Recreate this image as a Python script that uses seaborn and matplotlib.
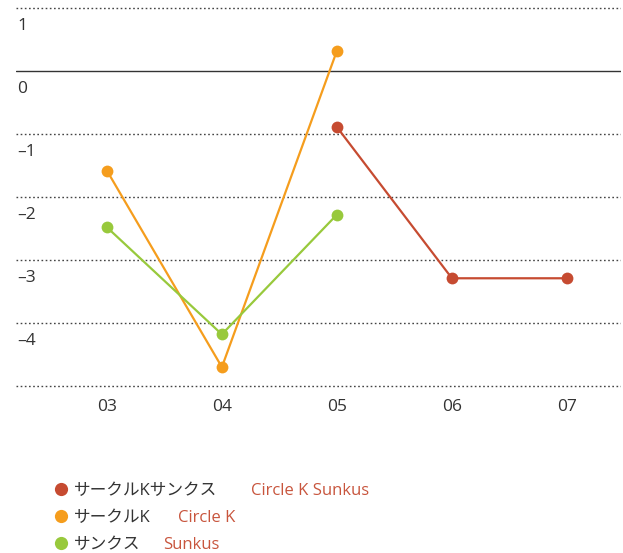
import numpy as np
import pandas as pd
import seaborn as sns
import matplotlib.pyplot as plt
from matplotlib.lines import Line2D

years = ["03", "04", "05", "06", "07"]
circlek_sunkus = [np.nan, np.nan, -0.89, -3.29, -3.29]
circlek = [-1.58, -4.70, 0.32, np.nan, np.nan]
sunkus = [-2.48, -4.18, -2.28, np.nan, np.nan]

names_jp = ["サークルKサンクス", "サークルK", "サンクス"]
names_en = ["Circle K Sunkus", "Circle K", "Sunkus"]
colors = ["#c64b31", "#f59d1d", "#98c93c"]
yticks = [1, 0, -1, -2, -3, -4, -5]

sns.set_style("white")
plt.rcParams['font.family'] = ['Open Sans', 'Noto Sans CJK JP', 'DejaVu Sans']

rows = []
for name, vals in zip(names_jp, [circlek_sunkus, circlek, sunkus]):
    for i, v in enumerate(vals):
        if not np.isnan(v):
            rows.append({"pos": i, "value": v, "series": name})
df = pd.DataFrame(rows)

fig = plt.figure(figsize=(6.23, 5.53), dpi=100)
ax = fig.add_axes([16 / 623, (553 - 389.15) / 553, 605 / 623, 384.3 / 553])

# grid lines
for t in yticks:
    if t == 0:
        ax.axhline(t, color="#333333", lw=1.0, zorder=1)
    else:
        ax.axhline(t, color="#444444", lw=1.0, ls=(0, (1.2, 1.8)), zorder=1)
    if t != -5:
        lab = str(t).replace("-", "\u2013")
        ax.text(0.002, t - 0.29, lab, transform=ax.get_yaxis_transform(),
                ha="left", va="center", fontsize=12.5, color="#333333")

sns.lineplot(data=df, x="pos", y="value", hue="series", palette=colors,
             hue_order=names_jp, marker="o", markersize=8.5, markeredgewidth=0,
             linewidth=1.6, ax=ax, legend=False, zorder=3)

ax.set_xlim(-0.79, 4.47)
ax.set_ylim(-5.05, 1.05)
ax.set_xticks(range(len(years)))
ax.set_xticklabels(years, fontsize=12.5, color="#333333")
ax.tick_params(axis="x", length=0, pad=7)
ax.set_yticks([])
ax.set_xlabel("")
ax.set_ylabel("")
for s in ax.spines.values():
    s.set_visible(False)

# legend
handles = [Line2D([], [], marker="o", ls="", color=c, markersize=9.5, markeredgewidth=0)
           for c in colors]
leg = fig.legend(handles, names_jp, loc="upper left",
                 bbox_to_anchor=(50 / 623, (553 - 476) / 553), frameon=False,
                 fontsize=12, handlelength=0.55, handletextpad=0.5,
                 labelspacing=0.66, borderaxespad=0)
for t in leg.get_texts():
    t.set_color("#333333")

fig.canvas.draw()
r = fig.canvas.get_renderer()
for t, en, x0 in zip(leg.get_texts(), names_en, [251, 178, 163]):
    bb = t.get_window_extent(r)
    fig.text(x0, (bb.y0 + bb.y1) / 2, en, transform=None, ha="left",
             va="center", fontsize=12, color="#c8553d")

fig.savefig("out.png", dpi=100)
